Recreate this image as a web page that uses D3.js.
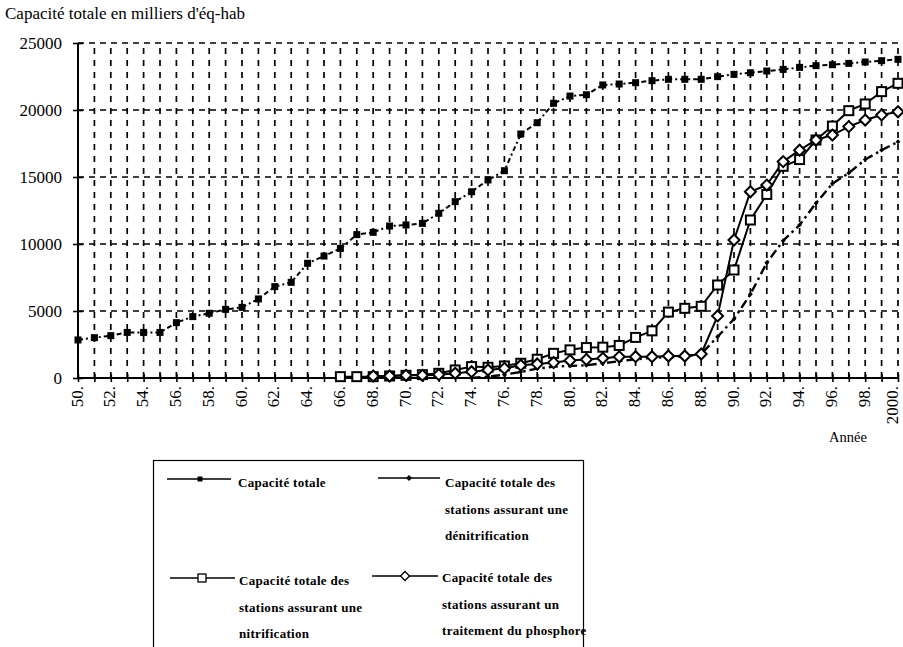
<!DOCTYPE html>
<html>
<head>
<meta charset="utf-8">
<script src="https://cdn.jsdelivr.net/npm/d3@7/dist/d3.min.js"></script>
<style>
  html, body { margin: 0; padding: 0; background: #fff; }
  svg { display: block; }
  text { font-family: "Liberation Serif", "Times New Roman", serif; fill: #000; }
</style>
</head>
<body>
<svg id="chart" width="903" height="647"></svg>
<script>
// Capacité des stations d'épuration, 1950–2000 (milliers d'équivalents-habitants)
const yearsTotal = [1950,1951,1952,1953,1954,1955,1956,1957,1958,1959,1960,1961,1962,1963,1964,1965,1966,1967,1968,1969,1970,1971,1972,1973,1974,1975,1976,1977,1978,1979,1980,1981,1982,1983,1984,1985,1986,1987,1988,1989,1990,1991,1992,1993,1994,1995,1996,1997,1998,1999,2000];
const capaciteTotale = [2840,3010,3160,3400,3400,3400,4130,4580,4830,5120,5270,5900,6820,7140,8560,9100,9670,10700,10870,11340,11420,11540,12290,13160,13900,14780,15470,18210,19050,20500,21040,21140,21870,21940,22040,22190,22290,22290,22290,22490,22660,22780,22910,23030,23180,23310,23380,23480,23580,23680,23780];

const yearsNitrif = [1966,1967,1968,1969,1970,1971,1972,1973,1974,1975,1976,1977,1978,1979,1980,1981,1982,1983,1984,1985,1986,1987,1988,1989,1990,1991,1992,1993,1994,1995,1996,1997,1998,1999,2000];
const nitrification = [100,100,100,150,200,250,350,600,850,800,900,1100,1400,1840,2100,2270,2300,2430,3030,3520,4920,5200,5350,6940,8060,11790,13700,15800,16300,17760,18800,19950,20450,21370,21990];

const yearsPhosph = [1968,1969,1970,1971,1972,1973,1974,1975,1976,1977,1978,1979,1980,1981,1982,1983,1984,1985,1986,1987,1988,1989,1990,1991,1992,1993,1994,1995,1996,1997,1998,1999,2000];
const phosphore = [150,150,200,200,250,350,470,600,720,950,1050,1150,1300,1380,1470,1580,1590,1590,1640,1640,1790,4630,10300,13900,14400,16150,17000,17760,18130,18760,19250,19630,19870];

const yearsDenitrif = [1974,1975,1976,1977,1978,1979,1980,1981,1982,1983,1984,1985,1986,1987,1988,1989,1990,1991,1992,1993,1994,1995,1996,1997,1998,1999,2000];
const denitrification = [0,100,250,450,700,850,900,950,1100,1250,1400,1500,1550,1600,1790,3080,4400,6250,8600,10250,11420,13050,14500,15300,16300,17000,17630];

const yTicks = [0,5000,10000,15000,20000,25000];
const xLabelYears = [1950,1952,1954,1956,1958,1960,1962,1964,1966,1968,1970,1972,1974,1976,1978,1980,1982,1984,1986,1988,1990,1992,1994,1996,1998,2000];

const titleText = "Capacité totale en milliers d'éq-hab";
const xAxisTitle = "Année";

const legendItems = [
  { key: "total",   lines: ["Capacité totale"] },
  { key: "denit",   lines: ["Capacité totale des", "stations assurant une", "dénitrification"] },
  { key: "nitrif",  lines: ["Capacité totale des", "stations assurant une", "nitrification"] },
  { key: "phosph",  lines: ["Capacité totale des", "stations assurant un", "traitement du phosphore"] }
];

const svg = d3.select("#chart");
const x = d3.scaleLinear().domain([1950, 2000]).range([78, 898]);
const y = d3.scaleLinear().domain([0, 25000]).range([378, 43]);

// ---- grid ----
const gridYears = yearsTotal.filter(d => d > 1950);
svg.append("g").selectAll("line").data(gridYears).join("line")
  .attr("x1", d => x(d)).attr("x2", d => x(d))
  .attr("y1", y(0)).attr("y2", y(25000))
  .attr("stroke", "#000").attr("stroke-width", 1.7)
  .attr("stroke-dasharray", "6,6");
svg.append("g").selectAll("line").data(yTicks.filter(d => d > 0)).join("line")
  .attr("x1", x(1950)).attr("x2", x(2000))
  .attr("y1", d => y(d)).attr("y2", d => y(d))
  .attr("stroke", "#000").attr("stroke-width", 1.4)
  .attr("stroke-dasharray", "6,5");

// ---- axes ----
const xAxis = svg.append("g").attr("transform", `translate(0,${y(0)})`)
  .call(d3.axisBottom(x).tickValues(yearsTotal).tickSize(4).tickFormat(""));
xAxis.select(".domain").attr("stroke-width", 2).attr("d", `M${x(1950)},0H${x(2000)}`);
xAxis.selectAll(".tick line").attr("y1", -4).attr("y2", 4).attr("stroke-width", 1.6);

const xLab = svg.append("g").attr("transform", `translate(0,${y(0)})`)
  .call(d3.axisBottom(x).tickValues(xLabelYears).tickSize(0)
    .tickFormat(d => d === 2000 ? "2000." : String(d % 100).padStart(2, "0") + "."));
xLab.select(".domain").remove();
xLab.selectAll("text")
  .attr("font-size", 17).attr("font-family", "Liberation Serif")
  .attr("text-anchor", "end")
  .attr("transform", "rotate(-90)")
  .attr("x", -8).attr("y", 0)
  .attr("dy", d => d === 2000 ? "-0.05em" : "0.24em");

const yAxis = svg.append("g").attr("transform", `translate(${x(1950)},0)`)
  .call(d3.axisLeft(y).tickValues(yTicks).tickSize(4).tickFormat(d => String(d)));
yAxis.select(".domain").attr("stroke-width", 2).attr("d", `M0,${y(0)}V${y(25000)}`);
yAxis.selectAll(".tick line").attr("x1", -5).attr("x2", 5).attr("stroke-width", 1.6);
yAxis.selectAll("text").attr("font-size", 17).attr("font-family", "Liberation Serif")
  .attr("x", -16);

svg.append("text").attr("x", 5).attr("y", 19).attr("font-size", 17).text(titleText);
svg.append("text").attr("x", 829).attr("y", 442).attr("font-size", 14.5).text(xAxisTitle);

// ---- series ----
function pts(years, vals) { return years.map((yr, i) => [yr, vals[i]]); }
const line = d3.line().x(d => x(d[0])).y(d => y(d[1]));

const sTotal = pts(yearsTotal, capaciteTotale);
const sNitrif = pts(yearsNitrif, nitrification);
const sPhosph = pts(yearsPhosph, phosphore);
const sDenit = pts(yearsDenitrif, denitrification);

svg.append("path").datum(sTotal).attr("d", line)
  .attr("fill", "none").attr("stroke", "#000").attr("stroke-width", 2)
  .attr("stroke-dasharray", "5,3,2,3");
svg.append("path").datum(sDenit).attr("d", line)
  .attr("fill", "none").attr("stroke", "#000").attr("stroke-width", 2.4)
  .attr("stroke-dasharray", "9,4,2.5,4");
svg.append("path").datum(sNitrif).attr("d", line)
  .attr("fill", "none").attr("stroke", "#000").attr("stroke-width", 2);
svg.append("path").datum(sPhosph).attr("d", line)
  .attr("fill", "none").attr("stroke", "#000").attr("stroke-width", 2);

const diamond = (r) => `M0,${-r}L${r},0L0,${r}L${-r},0Z`;

// small filled diamonds on denitrification
svg.append("g").selectAll("path").data(sDenit).join("path")
  .attr("transform", d => `translate(${x(d[0])},${y(d[1])})`)
  .attr("d", diamond(2.4)).attr("fill", "#000");
// filled squares on total
svg.append("g").selectAll("rect").data(sTotal).join("rect")
  .attr("x", d => x(d[0]) - 3.5).attr("y", d => y(d[1]) - 3.5)
  .attr("width", 7).attr("height", 7).attr("fill", "#000");
// open squares on nitrification
svg.append("g").selectAll("rect").data(sNitrif).join("rect")
  .attr("x", d => x(d[0]) - 4.5).attr("y", d => y(d[1]) - 4.5)
  .attr("width", 9).attr("height", 9)
  .attr("fill", "#fff").attr("stroke", "#000").attr("stroke-width", 2);
// open diamonds on phosphorus
svg.append("g").selectAll("path").data(sPhosph).join("path")
  .attr("transform", d => `translate(${x(d[0])},${y(d[1])})`)
  .attr("d", diamond(5.5))
  .attr("fill", "#fff").attr("stroke", "#000").attr("stroke-width", 2);

// ---- legend ----
const lg = svg.append("g");
lg.append("rect").attr("x", 153.5).attr("y", 460.5).attr("width", 430).attr("height", 188)
  .attr("fill", "none").attr("stroke", "#000").attr("stroke-width", 1.2);

const legendPos = {
  total:  { x1: 167, x2: 231, mx: 200, my: 479, tx: 238, ty: 487 },
  denit:  { x1: 378, x2: 440, mx: 409, my: 478, tx: 445, ty: 487 },
  nitrif: { x1: 170, x2: 235, mx: 202, my: 578, tx: 239, ty: 585 },
  phosph: { x1: 372, x2: 438, mx: 405, my: 576, tx: 442, ty: 582 }
};
legendItems.forEach(item => {
  const p = legendPos[item.key];
  const g = lg.append("g");
  g.append("line").attr("x1", p.x1).attr("x2", p.x2).attr("y1", p.my).attr("y2", p.my)
    .attr("stroke", "#000").attr("stroke-width", 1.3);
  if (item.key === "total") {
    g.append("rect").attr("x", p.mx - 2.5).attr("y", p.my - 2.5).attr("width", 5).attr("height", 5).attr("fill", "#000");
  } else if (item.key === "denit") {
    g.append("path").attr("transform", `translate(${p.mx},${p.my})`).attr("d", diamond(3)).attr("fill", "#000");
  } else if (item.key === "nitrif") {
    g.append("rect").attr("x", p.mx - 4).attr("y", p.my - 4).attr("width", 8).attr("height", 8)
      .attr("fill", "#fff").attr("stroke", "#000").attr("stroke-width", 1.3);
  } else {
    g.append("path").attr("transform", `translate(${p.mx},${p.my})`).attr("d", diamond(4.5))
      .attr("fill", "#fff").attr("stroke", "#000").attr("stroke-width", 1.3);
  }
  item.lines.forEach((t, i) => {
    g.append("text").attr("x", p.tx).attr("y", p.ty + i * 26.5)
      .attr("font-size", 13).attr("font-weight", "bold").attr("letter-spacing", 0.3)
      .text(t);
  });
});
</script>
</body>
</html>
